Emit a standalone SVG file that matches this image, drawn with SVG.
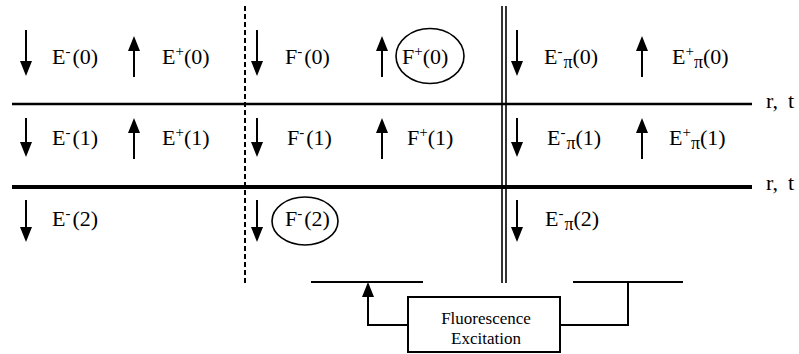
<svg xmlns="http://www.w3.org/2000/svg" width="799" height="354" viewBox="0 0 799 354" font-family="'Liberation Serif', 'Times New Roman', Times, serif">
<style>
text{font-family:'Liberation Serif','Times New Roman',Times,serif;font-size:22px;fill:#000}
.sup{font-size:15px}
.sub{font-size:18px}
.box{font-size:17px}
.ln{stroke:#000;fill:none}
.arr{stroke:#000;stroke-width:2;fill:none;marker-end:url(#ah)}
.ell{fill:none;stroke:#000;stroke-width:1.6}
</style>
<defs>
<marker id="ah" markerUnits="userSpaceOnUse" markerWidth="15" markerHeight="12" viewBox="0 0 15 12" refX="0" refY="6" orient="auto">
<path d="M0,0 L15,6 L0,12 z" fill="#000"/>
</marker>
</defs>
<g id="grid">
<line class="ln" x1="12" y1="104" x2="752" y2="104" stroke-width="2.5"/>
<line class="ln" x1="12" y1="187" x2="752" y2="187" stroke-width="4"/>
<line class="ln" x1="245" y1="6" x2="245" y2="283" stroke-width="2" stroke-dasharray="5,3"/>
<line class="ln" x1="502" y1="6" x2="502" y2="283" stroke-width="1.6"/>
<line class="ln" x1="506" y1="6" x2="506" y2="283" stroke-width="1.6"/>
<text x="766" y="108">r,</text><text x="788" y="108">t</text>
<text x="766" y="190">r,</text><text x="788" y="190">t</text>
</g>
<g id="arrows">
<line class="arr" x1="26" y1="30" x2="26" y2="61"/>
<line class="arr" x1="134" y1="77" x2="134" y2="51"/>
<line class="arr" x1="257" y1="30" x2="257" y2="61"/>
<line class="arr" x1="382" y1="77" x2="382" y2="51"/>
<line class="arr" x1="517" y1="30" x2="517" y2="61"/>
<line class="arr" x1="642" y1="77" x2="642" y2="51"/>
<line class="arr" x1="26" y1="118" x2="26" y2="142"/>
<line class="arr" x1="134" y1="159" x2="134" y2="133"/>
<line class="arr" x1="257" y1="118" x2="257" y2="142"/>
<line class="arr" x1="382" y1="159" x2="382" y2="133"/>
<line class="arr" x1="517" y1="118" x2="517" y2="142"/>
<line class="arr" x1="642" y1="159" x2="642" y2="133"/>
<line class="arr" x1="26" y1="200" x2="26" y2="227"/>
<line class="arr" x1="257" y1="200" x2="257" y2="227"/>
<line class="arr" x1="517" y1="200" x2="517" y2="227"/>
</g>
<g id="row0">
<text x="52" y="64">E<tspan class="sup" dy="-8">-</tspan><tspan dy="8" dx="2">(0)</tspan></text>
<text x="162" y="64">E<tspan class="sup" dy="-8">+</tspan><tspan dy="8">(0)</tspan></text>
<text x="285" y="64">F<tspan class="sup" dy="-8">-</tspan><tspan dy="8" dx="2">(0)</tspan></text>
<text x="402" y="64">F<tspan class="sup" dy="-8">+</tspan><tspan dy="8">(0)</tspan></text>
<ellipse class="ell" cx="430" cy="56" rx="34" ry="27.5"/>
<text x="544" y="64">E<tspan class="sup" dy="-8">-</tspan><tspan class="sub" dy="12" dx="1">π</tspan><tspan dy="-4">(0)</tspan></text>
<text x="672" y="64">E<tspan class="sup" dy="-8">+</tspan><tspan class="sub" dy="12">π</tspan><tspan dy="-4">(0)</tspan></text>
</g>
<g id="row1">
<text x="52" y="145">E<tspan class="sup" dy="-8">-</tspan><tspan dy="8" dx="2">(1)</tspan></text>
<text x="162" y="145">E<tspan class="sup" dy="-8">+</tspan><tspan dy="8">(1)</tspan></text>
<text x="287" y="145">F<tspan class="sup" dy="-8">-</tspan><tspan dy="8" dx="2">(1)</tspan></text>
<text x="407" y="145">F<tspan class="sup" dy="-8">+</tspan><tspan dy="8">(1)</tspan></text>
<text x="547" y="145">E<tspan class="sup" dy="-8">-</tspan><tspan class="sub" dy="12" dx="1">π</tspan><tspan dy="-4">(1)</tspan></text>
<text x="669" y="145">E<tspan class="sup" dy="-8">+</tspan><tspan class="sub" dy="12">π</tspan><tspan dy="-4">(1)</tspan></text>
</g>
<g id="row2">
<text x="52" y="226">E<tspan class="sup" dy="-8">-</tspan><tspan dy="8" dx="2">(2)</tspan></text>
<text x="285" y="226">F<tspan class="sup" dy="-8">-</tspan><tspan dy="8" dx="2">(2)</tspan></text>
<ellipse class="ell" cx="305" cy="221" rx="33" ry="24"/>
<text x="545" y="226">E<tspan class="sup" dy="-8">-</tspan><tspan class="sub" dy="12" dx="1">π</tspan><tspan dy="-4">(2)</tspan></text>
</g>
<g id="fluorescence">
<rect x="408" y="297" width="152" height="55" fill="#fff" stroke="#000" stroke-width="2"/>
<text class="box" x="486" y="324" text-anchor="middle">Fluorescence</text>
<text class="box" x="486" y="344" text-anchor="middle">Excitation</text>
</g>
<g id="connectors">
<line class="ln" x1="311" y1="282" x2="423" y2="282" stroke-width="2"/>
<line class="ln" x1="573" y1="282" x2="683" y2="282" stroke-width="2"/>
<polyline class="arr" points="408,325 368,325 368,297"/>
<polyline class="ln" stroke-width="2" points="560,325 628,325 628,282"/>
</g>
</svg>
